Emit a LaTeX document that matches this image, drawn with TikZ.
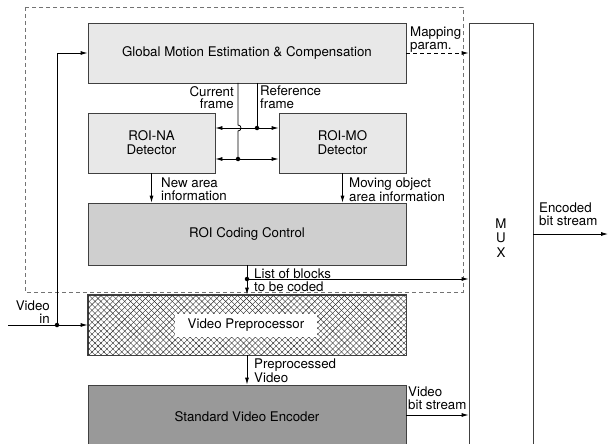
\documentclass[tikz,border=0pt]{standalone}
\usepackage{fontspec}
\setmainfont{TeX Gyre Heros}
\usetikzlibrary{arrows.meta,patterns.meta}
\definecolor{gmfill}{gray}{0.91}
\definecolor{rcfill}{gray}{0.81}
\definecolor{encfill}{gray}{0.60}
\definecolor{edge}{gray}{0.25}
\tikzset{
  blk/.style={draw=edge, line width=0.8pt, inner sep=0pt, align=center, font=\fontsize{13.3}{14}\selectfont},
  lbl/.style={inner sep=0pt, font=\fontsize{13.3}{12.5}\selectfont},
  conn/.style={line width=0.8pt, -{Latex[length=7pt,width=4pt]}},
  dconn/.style={line width=0.8pt, {Latex[length=7pt,width=4pt]}-{Latex[length=7pt,width=4pt]}},
  plain/.style={line width=0.8pt},
  dot/.style={circle, fill=black, inner sep=0pt, minimum size=4.5pt},
}
\begin{document}
\begin{tikzpicture}[x=1pt,y=-1pt]
\useasboundingbox (0,0) rectangle (608,444);
\clip (0,0) rectangle (608,444);
% dashed region
\draw[black!55, line width=0.9pt, dash pattern=on 4pt off 3pt] (25,7) rectangle (463,292);
% blocks
\node[blk, fill=gmfill, minimum width=318, minimum height=60] (gm) at (247,53) {Global Motion Estimation \& Compensation};
\node[blk, fill=gmfill, minimum width=127, minimum height=60] (na) at (151.5,143) {ROI-NA\\Detector};
\node[blk, fill=gmfill, minimum width=127, minimum height=60] (mo) at (342.5,143) {ROI-MO\\Detector};
\node[blk, fill=rcfill, minimum width=318, minimum height=62] (rc) at (247,234) {ROI Coding Control};
\node[blk, minimum width=318, minimum height=60] (vp) at (247,325) {};
\fill[pattern={Lines[angle=45,distance=4.2pt,line width=0.4pt]}, pattern color=black!85] (vp.south west) rectangle (vp.north east);
\fill[pattern={Lines[angle=-45,distance=4.2pt,line width=0.4pt]}, pattern color=black!85] (vp.south west) rectangle (vp.north east);
\draw[edge, line width=0.8pt] (vp.south west) rectangle (vp.north east);
\node[fill=white, minimum width=142, minimum height=23, inner sep=0pt, font=\fontsize{13.3}{14}\selectfont] (vpl) at (246,325) {Video Preprocessor};
\node[blk, fill=encfill, minimum width=318, minimum height=64] (enc) at (247,417) {Standard Video Encoder};
\node[blk, fill=white, minimum width=64, minimum height=430, text width=20, font=\fontsize{13.3}{14.5}\selectfont] (mux) at (501,238) {M\\U\\X};
% coordinates
\coordinate (vin) at (8,325);
\coordinate (j1) at (57,325);
\coordinate (cf) at (238,83);
\coordinate (rf) at (257,83);
\coordinate (hopA) at (238,125);
\coordinate (hopB) at (238,131);
\coordinate (cfend) at (238,159);
\coordinate (rfend) at (257,128);
\coordinate (j2) at (247,279);
\coordinate (eout) at (608,234);
% video in
\draw[conn] (vin) -- (vp.west);
\draw[conn] (j1) |- (gm.west);
\node[dot] at (j1) {};
% frames
\draw[dconn] (na.east |- rfend) -- (mo.west |- rfend);
\draw[dconn] (na.east |- cfend) -- (mo.west |- cfend);
\draw[plain] (cf) -- (hopA) .. controls (242,125) and (242,131) .. (hopB) -- (cfend);
\draw[plain] (rf) -- (rfend);
\node[dot] at (rfend) {};
\node[dot] at (cfend) {};
% down arrows
\draw[conn] (na.south) -- (na.south |- rc.north);
\draw[conn] (mo.south) -- (mo.south |- rc.north);
\draw[conn] (rc.south) -- (vp.north);
\node[dot] at (j2) {};
\draw[conn] (j2) -- (mux.west |- j2);
\draw[conn] (vp.south) -- (enc.north);
\draw[conn] (enc.east |- 0,415) -- (mux.west |- 0,415);
\draw[conn, dash pattern=on 4pt off 3pt] (gm.east) -- (mux.west |- gm.east);
\draw[conn] (mux.east |- eout) -- (eout);
% labels
\node[lbl, anchor=north west, align=left] (lmap) at (410,27) {Mapping\\param.};
\node[lbl, anchor=north east, align=right] (lcur) at (234,86) {Current\\frame};
\node[lbl, anchor=north west, align=left] (lref) at (260,86) {Reference\\frame};
\node[lbl, anchor=north west, align=left] (lnew) at (161,178) {New area\\information};
\node[lbl, anchor=north west, align=left] (lmov) at (349,178) {Moving object\\area information};
\node[lbl, anchor=north west, align=left] (llist) at (254,269) {List of blocks\\to be coded};
\node[lbl, anchor=north east, align=right] (lvin) at (50,301) {Video\\in};
\node[lbl, anchor=north west, align=left] (lpre) at (254,359) {Preprocessed\\Video};
\node[lbl, anchor=north west, align=left] (lvbs) at (408,387) {Video\\bit stream};
\node[lbl, anchor=north west, align=left] (lenc) at (539,203) {Encoded\\bit stream};
\end{tikzpicture}
\end{document}
